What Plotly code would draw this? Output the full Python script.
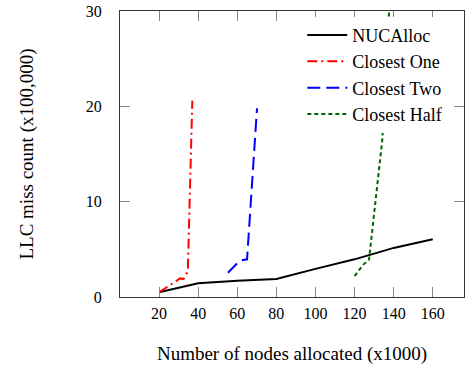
import plotly.graph_objects as go

nuc_x = [20, 40, 60, 80, 100, 120, 140, 160]
nuc_y = [0.5, 1.45, 1.7, 1.9, 2.95, 3.95, 5.15, 6.05]

one_x = [20, 30.8, 32.5, 34.7, 37]
one_y = [0.5, 1.95, 1.9, 2.7, 20.6]

two_x = [55.2, 61.2, 65, 70.1]
two_y = [2.55, 3.8, 3.95, 19.8]

half_x = [120, 124.5, 127.4, 134.2, 140]
half_y = [2.2, 3.4, 3.9, 16.5, 39]

x_ticks = [20, 40, 60, 80, 100, 120, 140, 160]
y_ticks = [0, 10, 20, 30]

FONT = "Liberation Serif"

fig = go.Figure()
fig.add_trace(go.Scatter(x=nuc_x, y=nuc_y, mode="lines", name="NUCAlloc",
                         line=dict(color="black", width=2)))
fig.add_trace(go.Scatter(x=one_x, y=one_y, mode="lines", name="Closest One",
                         line=dict(color="red", width=2, dash="10px,4px,2px,4px")))
fig.add_trace(go.Scatter(x=two_x, y=two_y, mode="lines", name="Closest Two",
                         line=dict(color="blue", width=2, dash="13px,6px")))
fig.add_trace(go.Scatter(x=half_x, y=half_y, mode="lines", name="Closest Half",
                         line=dict(color="darkgreen", width=2, dash="4px,3px")))

fig.update_layout(
    width=466, height=367,
    margin=dict(l=120, r=2, t=11, b=70, autoexpand=False),
    paper_bgcolor="white", plot_bgcolor="white",
    font=dict(family=FONT, size=16, color="black"),
    showlegend=True,
    legend=dict(x=0.53, y=0.98, xanchor="left", yanchor="top",
                bgcolor="white", borderwidth=0, font=dict(size=18),
                tracegroupgap=0, itemwidth=40),
    xaxis=dict(range=[0, 176], tickvals=x_ticks, ticks="inside", ticklen=10,
               tickcolor="#888", showgrid=False, zeroline=False,
               showline=True, linecolor="#333", linewidth=1.2, mirror="ticks",
               ticklabelstandoff=2, automargin=False,
               title=dict(text="Number of nodes allocated (x1000)", standoff=25)),
    yaxis=dict(range=[0, 30], tickvals=y_ticks, ticks="inside", ticklen=10,
               tickcolor="#888", showgrid=False, zeroline=False,
               showline=True, linecolor="#333", linewidth=1.2, mirror="ticks",
               ticklabelstandoff=14, automargin=False, ticklabeloverflow="allow",
               title=dict(text="LLC miss count (x100,000)", standoff=47)),
)

fig.write_html("out.html", config={"displayModeBar": False},
               post_script="document.body.style.margin='0';")
